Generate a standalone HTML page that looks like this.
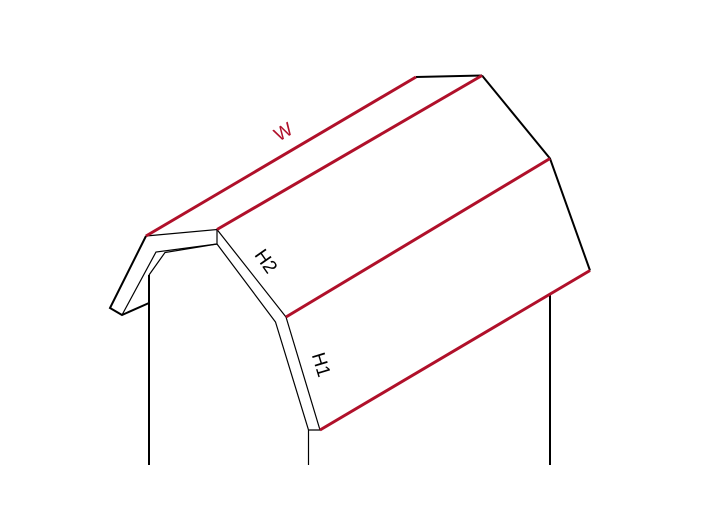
<!DOCTYPE html>
<html><head><meta charset="utf-8"><style>html,body{margin:0;padding:0;background:#fff}svg{display:block}</style></head>
<body>
<svg width="720" height="516" viewBox="0 0 720 516" xmlns="http://www.w3.org/2000/svg" font-family="Liberation Sans, sans-serif">
<g fill="none" stroke="#000" stroke-linejoin="miter">
<polyline stroke-width="2" points="146,236 110,308 122,315 149,303"/>
<line stroke-width="2" x1="149" y1="275" x2="149" y2="465"/>
<line stroke-width="2" x1="416" y1="77" x2="482" y2="75.5"/>
<polyline stroke-width="2" points="482,75.5 550,158.5 590,270.5"/>
<line stroke-width="2" x1="550" y1="295" x2="550" y2="465"/>
<polyline stroke-width="1.2" points="146,236 217,229.5 217,244"/>
<polyline stroke-width="1.2" points="122,315 156,252 217,244"/>
<polyline stroke-width="1.2" points="149,275 165,252.5 217,244"/>
<polyline stroke-width="1.2" points="217,229.5 286,317 320,430 309,430"/>
<polyline stroke-width="1.2" points="217,244 275.5,322 308.5,430 308.5,465"/>
</g>
<g stroke="#b0102a" stroke-width="3" fill="none">
<line x1="146" y1="236" x2="416" y2="77"/>
<line x1="217" y1="229.5" x2="482" y2="75.5"/>
<line x1="286" y1="317" x2="550" y2="158.5"/>
<line x1="320" y1="430" x2="590" y2="270.5"/>
</g>
<text x="0" y="0" font-size="19" fill="#b0102a" text-anchor="middle" dominant-baseline="middle" transform="translate(284,133) rotate(-30)">W</text>
<text x="0" y="0" font-size="19" fill="#000" text-anchor="middle" dominant-baseline="middle" transform="translate(265,262) rotate(55)">H2</text>
<text x="0" y="0" font-size="19" fill="#000" text-anchor="middle" dominant-baseline="middle" transform="translate(320,365) rotate(73)">H1</text>
</svg>
</body></html>
